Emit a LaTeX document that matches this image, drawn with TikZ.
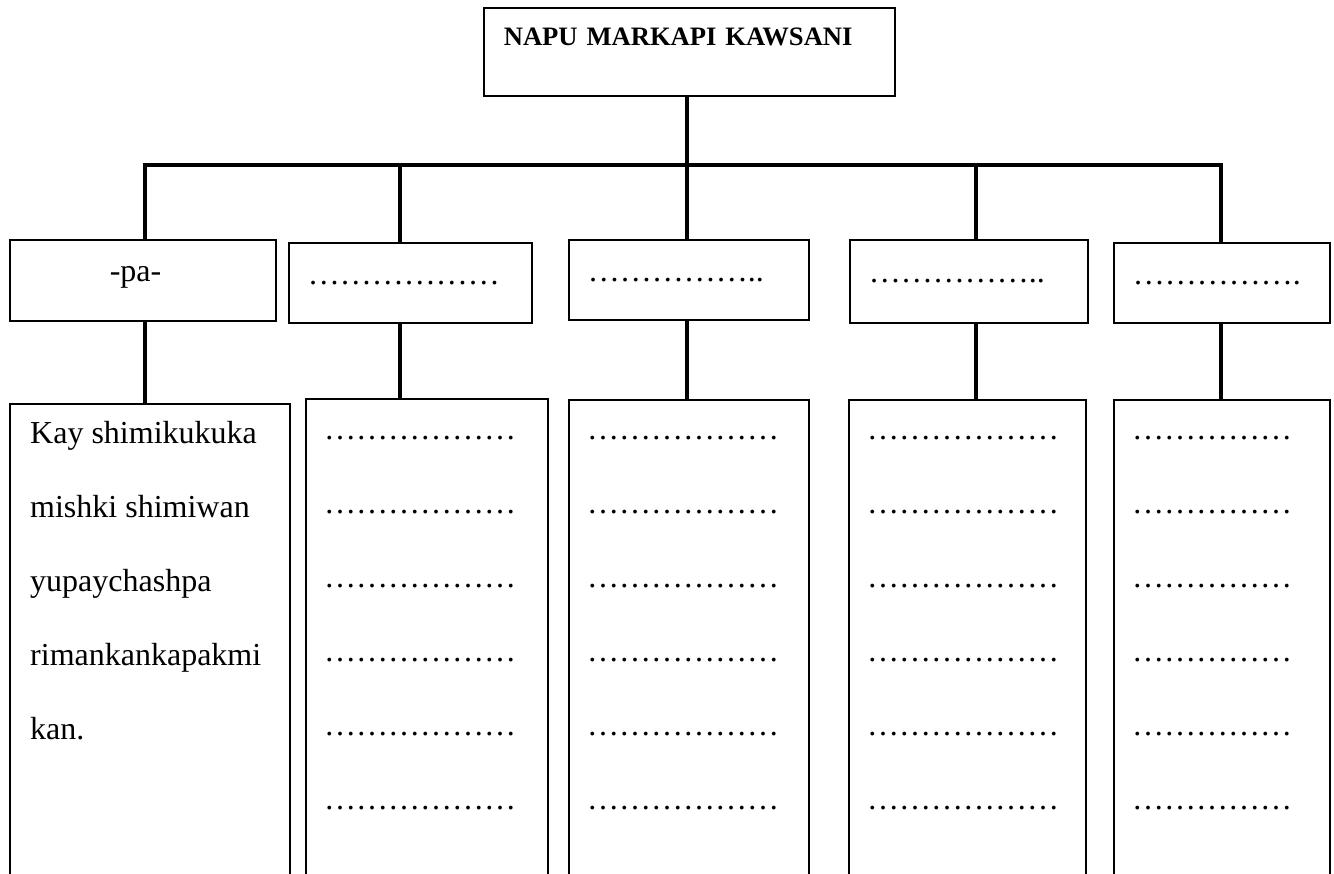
\documentclass[tikz,border=0pt]{standalone}
\usepackage{fontspec}
\setmainfont{Liberation Serif}

\begin{document}
\begin{tikzpicture}[x=1pt,y=-1pt]
\tikzstyle{box}=[draw,line width=1.6pt,inner sep=0pt,anchor=north west]
\tikzstyle{head}=[box,text width=371pt,inner xsep=20pt,align=left,text height=38pt,text depth=50pt,font=\fontsize{26.6}{30}\selectfont\bfseries]
\tikzstyle{mid}=[box,minimum height=80pt,inner xsep=19pt,align=left,font=\fontsize{32}{38}\selectfont]
\tikzstyle{low}=[box,minimum height=500pt]
\tikzstyle{line}=[anchor=base west,inner sep=0pt,font=\fontsize{32}{38}\selectfont]
\tikzstyle{link}=[line width=4pt,line cap=rect]
\useasboundingbox (0,0) rectangle (1334,874);
\clip (0,0) rectangle (1334,874);
\node[head] (napu) at (483,7) {NAPU MARKAPI KAWSANI};
\coordinate (bar1) at (145,165);
\coordinate (bar2) at (400,165);
\coordinate (bar3) at (687,165);
\coordinate (bar4) at (976,165);
\coordinate (bar5) at (1221,165);
\node[mid,minimum height=81pt,text width=66pt,inner xsep=100pt,text depth=13pt] (pa) at (9,239) {-pa-};
\node[mid,text width=205pt] (mb) at (288,242) {………………};
\node[mid,text width=202pt] (mc) at (568,239) {……………..};
\node[mid,text width=200pt,minimum height=83pt] (md) at (849,239) {……………..};
\node[mid,text width=178pt] (me) at (1113,242) {…………….};
\node[low,minimum width=280pt] (la) at (9,403) {};
\node[low,minimum width=242pt] (lb) at (305,398) {};
\node[low,minimum width=240pt] (lc) at (568,399) {};
\node[low,minimum width=237pt] (ld) at (848,399) {};
\node[low,minimum width=216pt] (le) at (1113,399) {};
\node[line] (t1) at (30,444) {Kay shimikukuka};
\node[line] (t2) at (30,517.75) {mishki shimiwan};
\node[line] (t3) at (30,591.5) {yupaychashpa};
\node[line] (t4) at (30,665.25) {rimankankapakmi};
\node[line] (t5) at (30,739) {kan.};
\foreach \c/\x in {b/324,c/587,d/867}
  \foreach \r in {0,...,5}
    \node[line] (\c\r) at (\x,440+73.8*\r) {………………};
\foreach \r in {0,...,5}
  \node[line] (e\r) at (1132,440+73.8*\r) {……………};
\draw[link] (bar3 |- napu.south) -- (bar3);
\draw[link] (bar1) -- (bar5);
\draw[link] (bar1) -- (bar1 |- pa.north);
\draw[link] (bar2) -- (bar2 |- mb.north);
\draw[link] (bar3) -- (bar3 |- mc.north);
\draw[link] (bar4) -- (bar4 |- md.north);
\draw[link] (bar5) -- (bar5 |- me.north);
\draw[link] (bar1 |- pa.south) -- (bar1 |- la.north);
\draw[link] (bar2 |- mb.south) -- (bar2 |- lb.north);
\draw[link] (bar3 |- mc.south) -- (bar3 |- lc.north);
\draw[link] (bar4 |- md.south) -- (bar4 |- ld.north);
\draw[link] (bar5 |- me.south) -- (bar5 |- le.north);
\end{tikzpicture}
\end{document}
